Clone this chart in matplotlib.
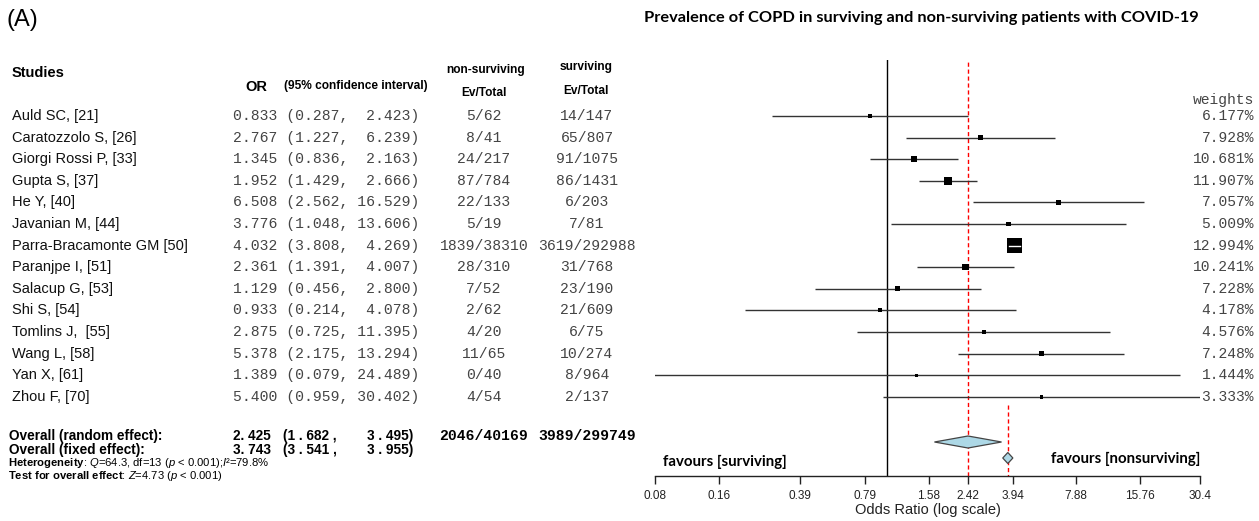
import matplotlib
matplotlib.use("Agg")
import matplotlib.pyplot as plt
import matplotlib.transforms as mtransforms
import numpy as np

# ---------------- data ----------------
studies = ["Auld SC, [21]", "Caratozzolo S, [26]", "Giorgi Rossi P, [33]", "Gupta S, [37]",
           "He Y, [40]", "Javanian M, [44]", "Parra-Bracamonte GM [50]", "Paranjpe I, [51]",
           "Salacup G, [53]", "Shi S, [54]", "Tomlins J,  [55]", "Wang L, [58]",
           "Yan X, [61]", "Zhou F, [70]"]
or_vals = [0.833, 2.767, 1.345, 1.952, 6.508, 3.776, 4.032, 2.361, 1.129, 0.933, 2.875, 5.378, 1.389, 5.400]
ci_lo = [0.287, 1.227, 0.836, 1.429, 2.562, 1.048, 3.808, 1.391, 0.456, 0.214, 0.725, 2.175, 0.079, 0.959]
ci_hi = [2.423, 6.239, 2.163, 2.666, 16.529, 13.606, 4.269, 4.007, 2.800, 4.078, 11.395, 13.294, 24.489, 30.402]
ev_nonsurv = ["5/62", "8/41", "24/217", "87/784", "22/133", "5/19", "1839/38310", "28/310",
              "7/52", "2/62", "4/20", "11/65", "0/40", "4/54"]
ev_surv = ["14/147", "65/807", "91/1075", "86/1431", "6/203", "7/81", "3619/292988", "31/768",
           "23/190", "21/609", "6/75", "10/274", "8/964", "2/137"]
weights = [6.177, 7.928, 10.681, 11.907, 7.057, 5.009, 12.994, 10.241, 7.228, 4.178, 4.576, 7.248, 1.444, 3.333]

random_eff = [2.425, 1.682, 3.495]
fixed_eff = [3.743, 3.541, 3.955]
total_nonsurv = "2046/40169"
total_surv = "3989/299749"

tick_vals = [0.08, 0.16, 0.39, 0.79, 1.58, 2.42, 3.94, 7.88, 15.76, 30.4]
tick_labels = ["0.08", "0.16", "0.39", "0.79", "1.58", "2.42", "3.94", "7.88", "15.76", "30.4"]

# ---------------- style ----------------
plt.rcParams['mathtext.fontset'] = 'custom'
plt.rcParams['mathtext.rm'] = 'Liberation Sans'
plt.rcParams['mathtext.it'] = 'Liberation Sans:italic'
plt.rcParams['mathtext.bf'] = 'Liberation Sans:bold'

W, H = 1259, 521
DPI = 100
fig = plt.figure(figsize=(W / DPI, H / DPI), dpi=DPI)

SANS = "Liberation Sans"
MONO = "Liberation Mono"
CAL = "Lato"
NUMC = '#444444'

# pixel geometry of the forest axes
x_left, x_right = 655, 1200
y_top, y_bot = 60, 475.7
row0, rstep = 116, 21.6

ax = fig.add_axes([x_left / W, 1 - y_bot / H, (x_right - x_left) / W, (y_bot - y_top) / H])
ax.set_xscale('log')
ax.set_xlim(tick_vals[0], tick_vals[-1])
ax.set_ylim((y_bot - row0) / rstep, (y_top - row0) / rstep)


def ypx(p):
    return (p - row0) / rstep


for s in ['top', 'right', 'left']:
    ax.spines[s].set_visible(False)
ax.spines['bottom'].set_linewidth(1.0)
ax.spines['bottom'].set_color('#222222')
ax.set_yticks([])
ax.set_xticks(tick_vals)
ax.set_xticklabels(tick_labels, fontfamily=SANS, fontsize=8.5, color='#222222')
ax.xaxis.set_minor_locator(matplotlib.ticker.NullLocator())
ax.tick_params(axis='x', direction='out', length=6, width=1, pad=4, color='#222222')
ax.set_xlabel("Odds Ratio (log scale)", fontfamily=SANS, fontsize=10.5, labelpad=1, color='#222222')
ax.patch.set_visible(False)

rows = np.arange(len(studies))

# reference lines
ax.axvline(1.0, color='black', lw=1.0, zorder=1)
ax.axvline(random_eff[0], color='red', lw=1.0, ls=(0, (3, 2)), zorder=1)
ax.plot([fixed_eff[0], fixed_eff[0]], [ypx(405), ax.get_ylim()[0]], color='red', lw=1.0,
        ls=(0, (3, 2)), zorder=1)

# CI lines
ax.hlines(rows, ci_lo, ci_hi, color='#333333', lw=1.0, zorder=2)

# boxes: size from precision
ci_lo_a = np.array(ci_lo)
ci_hi_a = np.array(ci_hi)
se = (np.log(ci_hi_a) - np.log(ci_lo_a)) / 3.92
side_px = 3.65 * se ** -0.4
side_pt = side_px * 72 / DPI
ax.scatter(or_vals, rows, marker='s', s=side_pt ** 2, color='black', zorder=3, linewidths=0)

# white CI line inside boxes narrower than the box
for i in rows:
    x0 = ax.transData.transform((ci_lo[i], i))[0]
    x1 = ax.transData.transform((ci_hi[i], i))[0]
    if (x1 - x0) < side_px[i]:
        ax.plot([ci_lo[i], ci_hi[i]], [i, i], color='white', lw=1.0, zorder=4)


# diamonds
def diamond(est, lo, hi, yc, half):
    xs = [lo, est, hi, est, lo]
    ys = [yc, yc - half, yc, yc + half, yc]
    ax.fill(xs, ys, facecolor='#add8e6', edgecolor='#444444', lw=0.9, zorder=3, clip_on=False)


diamond(random_eff[0], random_eff[1], random_eff[2], ypx(442), 6 / rstep)
diamond(fixed_eff[0], fixed_eff[1], fixed_eff[2], ypx(458), 5.5 / rstep)

# text helpers: x in pixels (figure), y in row units
tr = mtransforms.blended_transform_factory(fig.transFigure, ax.transData)


def T(xp, y, s, **kw):
    kw.setdefault('va', 'center')
    return fig.text(xp / W, y, s, transform=tr, **kw)


# favours labels
T(663, ypx(462), "favours [surviving]", fontfamily=CAL, fontweight='bold', fontsize=10.8, ha='left')
T(1200, ypx(459), "favours [nonsurviving]", fontfamily=CAL, fontweight='bold', fontsize=10.8, ha='right')

# headers
T(12, ypx(73), "Studies", fontfamily=SANS, fontweight='bold', fontsize=10.5, ha='left')
T(245, ypx(87), "OR", fontfamily=SANS, fontweight='bold', fontsize=10.5, ha='left')
T(284, ypx(86), "(95% confidence interval)", fontfamily=SANS, fontweight='bold', fontsize=8.6, ha='left')
T(486, ypx(70), "non-surviving", fontfamily=SANS, fontweight='bold', fontsize=8.6, ha='center')
T(586, ypx(67), "surviving", fontfamily=SANS, fontweight='bold', fontsize=8.6, ha='center')
T(484, ypx(93), "Ev/Total", fontfamily=SANS, fontweight='bold', fontsize=8.6, ha='center')
T(586, ypx(91), "Ev/Total", fontfamily=SANS, fontweight='bold', fontsize=8.6, ha='center')
T(1254, ypx(100), "weights", fontfamily=MONO, fontsize=10.5, ha='right', color=NUMC)

# study rows
for i in rows:
    T(12, i, studies[i], fontfamily=SANS, fontsize=10.5, ha='left', color='#111111')
    T(233, i, f"{or_vals[i]:.3f} ({ci_lo[i]:.3f}, {ci_hi[i]:6.3f})", fontfamily=MONO,
      fontsize=10.6, ha='left', color=NUMC)
    T(484, i, ev_nonsurv[i], fontfamily=MONO, fontsize=10.6, ha='center', color=NUMC)
    T(587, i, ev_surv[i], fontfamily=MONO, fontsize=10.6, ha='center', color=NUMC)
    T(1254, i, f"{weights[i]:.3f}%", fontfamily=MONO, fontsize=10.5, ha='right', color=NUMC)


def spaced(v):
    # the reference prints the summary numbers with loose spacing, e.g. "1 . 682"
    a, b = f"{v:.3f}".split(".")
    return a + " . " + b


# overall rows
for lab, eff, yp in [("Overall (random effect):", random_eff, 436),
                     ("Overall (fixed effect):", fixed_eff, 450)]:
    T(9, ypx(yp), lab, fontfamily=SANS, fontweight='bold', fontsize=9.8, ha='left')
    a, b = f"{eff[0]:.3f}".split(".")
    T(233, ypx(yp), a + ". " + b, fontfamily=SANS, fontweight='bold', fontsize=9.8, ha='left')
    T(283, ypx(yp), "(" + spaced(eff[1]) + " ,", fontfamily=SANS, fontweight='bold', fontsize=9.8, ha='left')
    T(413, ypx(yp), spaced(eff[2]) + ")", fontfamily=SANS, fontweight='bold', fontsize=9.8, ha='right')
T(484, ypx(436), total_nonsurv, fontfamily=MONO, fontweight='bold', fontsize=10.6, ha='center')
T(587, ypx(436), total_surv, fontfamily=MONO, fontweight='bold', fontsize=10.6, ha='center')

T(8, ypx(463.5), r"$\mathbf{Heterogeneity}$: $\mathit{Q}$=64.3, df=13 ($\mathit{p}$ < 0.001);$\mathit{I}$²=79.8%",
  fontfamily=SANS, fontsize=8.1, ha='left')
T(8, ypx(476), r"$\mathbf{Test\ for\ overall\ effect}$: $\mathit{Z}$=4.73 ($\mathit{p}$ < 0.001)",
  fontfamily=SANS, fontsize=8.1, ha='left')

# titles
fig.text(7 / W, 1 - 20 / H, "(A)", fontfamily=SANS, fontsize=17, ha='left', va='center')
fig.text(921 / W, 1 - 18 / H, "Prevalence of COPD in surviving and non-surviving patients with COVID-19",
         fontfamily=CAL, fontweight='bold', fontsize=11.8, ha='center', va='center')

fig.savefig("out.png", dpi=DPI)
